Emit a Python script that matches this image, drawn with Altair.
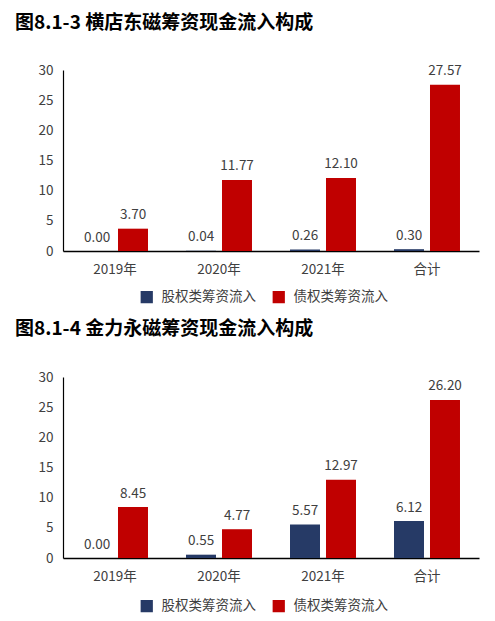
import altair as alt
import pandas as pd

categories = ["2019年", "2020年", "2021年", "合计"]
series = ["股权类筹资流入", "债权类筹资流入"]
colors = ["#263A66", "#C00000"]

title1 = "图8.1-3 横店东磁筹资现金流入构成"
hd_equity = [0.00, 0.04, 0.26, 0.30]
hd_debt = [3.70, 11.77, 12.10, 27.57]

title2 = "图8.1-4 金力永磁筹资现金流入构成"
jl_equity = [0.00, 0.55, 5.57, 6.12]
jl_debt = [8.45, 4.77, 12.97, 26.20]

y_ticks = [0, 5, 10, 15, 20, 25, 30]
FONT = "Noto Sans CJK SC"


def panel(title, equity, debt, title_offset, legend_y):
    rows = []
    for c, v in zip(categories, equity):
        rows.append({"cat": c, "series": series[0], "value": v})
    for c, v in zip(categories, debt):
        rows.append({"cat": c, "series": series[1], "value": v})
    df = pd.DataFrame(rows)

    base = alt.Chart(df).encode(
        x=alt.X("cat:N", sort=categories, title=None,
                scale=alt.Scale(paddingInner=0, paddingOuter=0),
                axis=alt.Axis(labelAngle=0, ticks=False, domainColor="#000000",
                              domainWidth=1.5, labelFontSize=13.5, labelColor="#404040",
                              labelFont=FONT, labelPadding=11, grid=False)),
        xOffset=alt.XOffset("series:N", sort=series,
                            scale=alt.Scale(paddingInner=1/6, paddingOuter=0.528)),
        y=alt.Y("value:Q", title=None,
                scale=alt.Scale(domain=[0, 30], nice=False),
                axis=alt.Axis(values=y_ticks, ticks=False, grid=False,
                              domainColor="#000000", domainWidth=1.2,
                              labelFontSize=13.5, labelColor="#404040",
                              labelFont=FONT, labelPadding=10)),
    )
    bars = base.mark_bar().encode(
        color=alt.Color("series:N", sort=series,
                        scale=alt.Scale(domain=series, range=colors),
                        legend=alt.Legend(title=None, orient="none", direction="horizontal",
                                          legendX=77, legendY=legend_y,
                                          symbolType="square", symbolSize=150,
                                          symbolStrokeWidth=0, symbolOpacity=1,
                                          labelFontSize=13.5, labelColor="#404040",
                                          labelFont=FONT, columnPadding=16,
                                          labelOffset=8)),
    )
    text = base.mark_text(baseline="bottom", dy=-6.5, fontSize=13.5,
                          color="#404040", font=FONT).encode(
        text=alt.Text("value:Q", format=".2f")
    )
    return alt.layer(bars, text).properties(
        width=416, height=181,
        title=alt.TitleParams(title, anchor="start", frame="group", dx=-48,
                              offset=title_offset, fontSize=19, fontWeight="bold",
                              font=FONT, color="#000000"),
    )


chart = alt.vconcat(
    panel(title1, hd_equity, hd_debt, 30, 220),
    panel(title2, jl_equity, jl_debt, 31, 222),
    spacing=16,
).resolve_scale(color="independent").resolve_legend(color="independent").properties(
    padding={"left": 7, "top": 6, "right": 5, "bottom": 5}
).configure_view(stroke=None)

chart.save("out.html", embed_options={"renderer": "svg", "actions": False})
